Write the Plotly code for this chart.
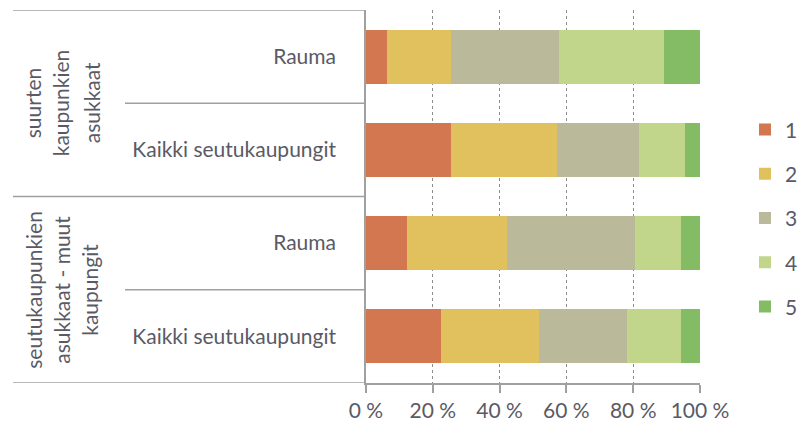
import plotly.graph_objects as go

categories = ["Rauma", "Kaikki seutukaupungit", "Rauma", "Kaikki seutukaupungit"]
groups = [["suurten", "kaupunkien", "asukkaat"],
          ["seutukaupunkien", "asukkaat - muut", "kaupungit"]]
series_names = ["1", "2", "3", "4", "5"]
values = {
    "1": [6.2, 25.4, 12.2, 22.4],
    "2": [19.2, 31.8, 30.0, 29.4],
    "3": [32.3, 24.4, 38.3, 26.3],
    "4": [31.6, 13.8, 13.7, 16.1],
    "5": [10.7, 4.6, 5.8, 5.8],
}
colors = ["#D37750", "#E0C15E", "#BAB99A", "#C1D68B", "#84BC66"]
x_ticks = [0, 20, 40, 60, 80, 100]
x_ticktext = ["0 %", "20 %", "40 %", "60 %", "80 %", "100 %"]

FONT = "Lato"
FS = 21
TXT = "#5a5a66"
LINE = "#a0a0a0"

ypos = list(range(len(categories)))

fig = go.Figure()
for i, name in enumerate(series_names):
    fig.add_trace(go.Bar(
        y=ypos, x=values[name], name=name, orientation="h",
        marker=dict(color=colors[i], line=dict(width=0)),
        width=0.58, legendgroup=name,
    ))

# page body has an 8px default margin; work in screen pixels and subtract it
OFF = 8
W, H = 806 - OFF, 423 - OFF
PL, PR, PT, PB = 366, 700, 10, 383  # plot area in screen pixels
L, R, T, B = PL - OFF, W + OFF - PR, PT - OFF, H + OFF - PB
pw = PR - PL

def px2paper(px):
    return (px - PL) / pw

shapes = []
for yv, x0 in [(-0.5, 13), (0.5, 125), (1.5, 13), (2.5, 125), (3.5, 13)]:
    shapes.append(dict(type="line", xref="paper", yref="y",
                       x0=px2paper(x0), x1=0, y0=yv, y1=yv,
                       line=dict(color=LINE, width=1.5)))

annotations = []
xcols = [[32, 60, 91], [34, 62, 90]]
for g, lines in enumerate(groups):
    yc = 2 * g + 0.5
    for j, txt in enumerate(lines):
        annotations.append(dict(
            text=txt, xref="paper", yref="y", x=px2paper(xcols[g][j]), y=yc,
            textangle=-90, showarrow=False, xanchor="center", yanchor="middle",
            font=dict(family=FONT, size=FS, color=TXT)))

fig.update_layout(
    width=W, height=H,
    margin=dict(l=L, r=R, t=T, b=B, autoexpand=False),
    plot_bgcolor="white", paper_bgcolor="white",
    barmode="stack",
    font=dict(family=FONT, size=FS, color=TXT),
    xaxis=dict(range=[0, 100], tickvals=x_ticks, ticktext=x_ticktext,
               showgrid=True, gridcolor="#8c8c8c", griddash="dot", gridwidth=1,
               showline=True, linecolor=LINE, linewidth=1.5,
               ticks="outside", ticklen=8, tickcolor=LINE, tickwidth=1.5,
               zeroline=False, automargin=False,
               tickfont=dict(size=FS, color=TXT)),
    yaxis=dict(range=[3.5, -0.5], tickvals=ypos, ticktext=categories,
               showgrid=False, zeroline=False, showline=True,
               linecolor=LINE, linewidth=1.5, ticks="", automargin=False,
               ticklabelstandoff=24, tickfont=dict(size=FS, color=TXT)),
    legend=dict(xref="container", x=(745 - OFF) / W, xanchor="left",
                yref="container", y=1 - (213 - OFF) / H, yanchor="middle",
                traceorder="grouped", tracegroupgap=14,
                font=dict(size=FS, color=TXT), itemwidth=30),
    shapes=shapes,
    annotations=annotations,
    showlegend=True,
)

fig.write_html("out.html")
